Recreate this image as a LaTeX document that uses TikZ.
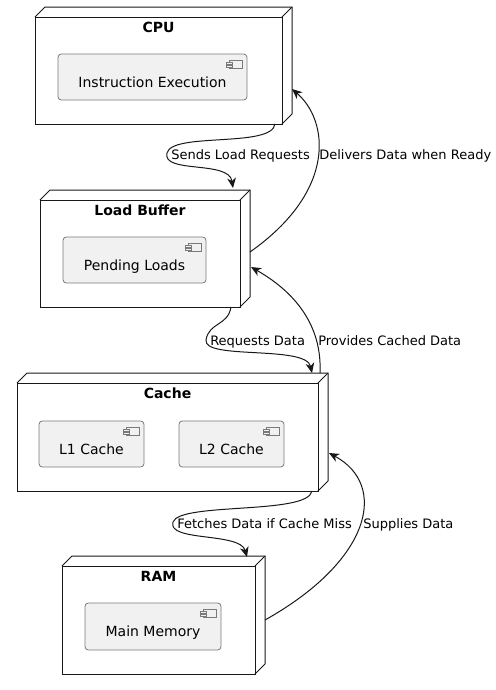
\documentclass[tikz,border=0pt]{standalone}
\usepackage{fontspec}
\setmainfont{DejaVu Sans}
\usetikzlibrary{arrows.meta,calc}
\newlength{\upx}\setlength{\upx}{0.75pt}
\definecolor{compfill}{HTML}{F1F1F1}
\definecolor{ink}{HTML}{181818}
\definecolor{compline}{HTML}{7A7A7A}
\tikzset{
  nodebox/.style={draw=ink, line width=0.75pt, anchor=north west, inner sep=0pt, outer sep=0pt},
  face/.style={draw=ink, line width=0.75pt, line join=miter},
  comp/.style={draw=compline, line width=0.6pt, fill=compfill, rounded corners=2.5pt,
    anchor=north west, inner sep=0pt, outer sep=0pt, text height=20\upx, text depth=0pt,
    font=\fontsize{10.5pt}{12pt}\selectfont},
  icon/.style={draw=compline, line width=0.5pt, fill=compfill},
  ntitle/.style={font=\fontsize{10.5pt}{12pt}\selectfont\bfseries, anchor=base, inner sep=0pt},
  elabel/.style={font=\fontsize{9.75pt}{11pt}\selectfont, anchor=base west, inner sep=0pt},
  edge/.style={draw=ink, line width=0.75pt, -{Stealth[length=7.5pt,width=6.5pt,inset=2.2pt]}}
}
\newcommand\threedfaces[1]{%
  \draw[face] (#1.north west) -- ++(10,-10) -- ($(#1.north east)+(10,-10)$) -- ($(#1.south east)+(10,-10)$) -- (#1.south east);
  \draw[face] (#1.north east) -- ++(10,-10);}
\newcommand\compicon[1]{%
  \draw[icon] ($(#1.north east)+(-18,6)$) rectangle ($(#1.north east)+(-5,14)$);
  \draw[icon] ($(#1.north east)+(-21,8)$) rectangle ++(6,2);
  \draw[icon] ($(#1.north east)+(-21,11)$) rectangle ++(6,2);}
\begin{document}
\begin{tikzpicture}[x=0.75pt, y=-0.75pt]
\useasboundingbox (0,0) rectangle (496,690);

% CPU
\node[nodebox, minimum width=247\upx, minimum height=107\upx] (cpu) at (35,17) {};
\threedfaces{cpu}
\node[ntitle] (cputitle) at (158.5,32) {CPU};
\node[comp, minimum width=189\upx, minimum height=46\upx] (ie) at (58,54) {Instruction Execution\hspace{9\upx}};
\compicon{ie}

% Load Buffer
\node[nodebox, minimum width=200\upx, minimum height=107\upx] (lb) at (40,200) {};
\threedfaces{lb}
\node[ntitle] (lbtitle) at (140,215) {Load Buffer};
\node[comp, minimum width=143\upx, minimum height=46\upx] (pl) at (63,237) {Pending Loads\hspace{9\upx}};
\compicon{pl}

% Cache
\node[nodebox, minimum width=301\upx, minimum height=108\upx] (cache) at (17,383) {};
\threedfaces{cache}
\node[ntitle] (cachetitle) at (167.5,398) {Cache};
\node[comp, minimum width=105\upx, minimum height=46\upx] (l1) at (39,421) {L1 Cache\hspace{9\upx}};
\compicon{l1}
\node[comp, minimum width=105\upx, minimum height=46\upx] (l2) at (179,421) {L2 Cache\hspace{9\upx}};
\compicon{l2}

% RAM
\node[nodebox, minimum width=193\upx, minimum height=108\upx] (ram) at (62,566) {};
\threedfaces{ram}
\node[ntitle] (ramtitle) at (158.5,581) {RAM};
\node[comp, minimum width=136\upx, minimum height=47\upx] (mm) at (85,603) {Main Memory\hspace{9\upx}};
\compicon{mm}

% Edges
\draw[edge] ($(cpu.south west)+(240,0)$) .. controls (272,148) and (172,132) .. (167,153)
  .. controls (162,174) and (229,160) .. ($(lb.north west)+(193,-12)$);
\node[elabel] (l-e1) at (171,159) {Sends Load Requests};

\draw[edge] ($(lb.north east)+(10,52)$) .. controls (338,190) and (328,120) .. ($(cpu.north east)+(10,72)$);
\node[elabel] (l-e2) at (319,159) {Delivers Data when Ready};

\draw[edge] ($(lb.south west)+(191,0)$) .. controls (228,326) and (209,322) .. (206,340)
  .. controls (203,360) and (306,345) .. ($(cache.north west)+(295,-10)$);
\node[elabel] (l-e3) at (210,345) {Requests Data};

\draw[edge] ($(cache.north west)+(303,-10)$) .. controls (322,330) and (300,295) .. ($(lb.north east)+(11,67)$);
\node[elabel] (l-e4) at (318,345) {Provides Cached Data};

\draw[edge] ($(cache.south west)+(295,0)$) .. controls (308,515) and (180,502) .. (173,522)
  .. controls (167,542) and (240,532) .. ($(ram.north west)+(185,-9)$);
\node[elabel] (l-e5) at (177,528) {Fetches Data if Cache Miss};

\draw[edge] ($(ram.north east)+(10,54)$) .. controls (372,560) and (388,485) .. ($(cache.north east)+(11,70)$);
\node[elabel] (l-e6) at (363,528) {Supplies Data};
\end{tikzpicture}
\end{document}
